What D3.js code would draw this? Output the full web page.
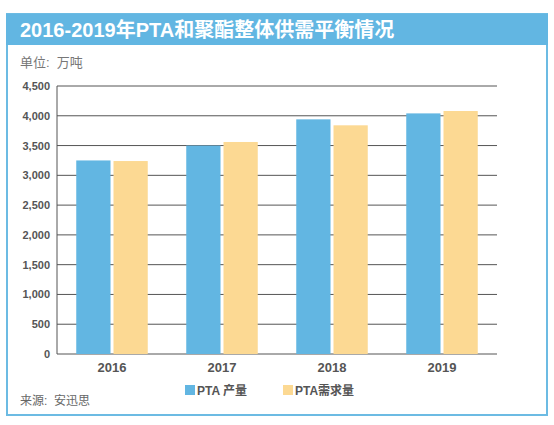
<!DOCTYPE html><html><head><meta charset="utf-8"><script src="https://cdn.jsdelivr.net/npm/d3@7"></script>
<style>body{margin:0;background:#fff}text{font-family:"Liberation Sans","Noto Sans CJK SC",sans-serif}</style></head><body><svg width="554" height="425"></svg><script>
const years=["2016","2017","2018","2019"];
const production=[3250,3500,3940,4040];
const demand=[3240,3560,3840,4080];
const ticks=[0,500,1000,1500,2000,2500,3000,3500,4000,4500];
const svg=d3.select("svg");
svg.append("rect").attr("x",7).attr("y",14).attr("width",540).attr("height",401).attr("fill","#fff").attr("stroke","#6cbbe3").attr("stroke-width",2);
svg.append("rect").attr("x",6).attr("y",14).attr("width",542).attr("height",31).attr("fill","#62b6e2");
svg.append("text").attr("x",20).attr("y",37).attr("fill","#fff").attr("font-size",20).attr("font-weight","bold").text("2016-2019年PTA和聚酯整体供需平衡情况");
svg.append("text").attr("x",20).attr("y",67).attr("fill","#777").attr("font-size",13).text("单位:\u00a0\u00a0万吨");
const x=d3.scaleBand().domain(years).range([57,497]).paddingInner(0.35).paddingOuter(0.175);
const y=d3.scaleLinear().domain([0,4500]).range([354,86]);
svg.append("g").selectAll("line").data(ticks).join("line").attr("x1",57).attr("x2",497).attr("y1",d=>y(d)).attr("y2",d=>y(d)).attr("stroke","#555").attr("stroke-width",1);
svg.append("line").attr("x1",57).attr("x2",57).attr("y1",86).attr("y2",354).attr("stroke","#555");
svg.append("g").selectAll("text").data(ticks).join("text").attr("x",50).attr("y",d=>y(d)+4).attr("text-anchor","end").attr("font-size",11).attr("font-weight","bold").attr("fill","#555").text(d3.format(","));
const bw=x.bandwidth()/2-1.5;
const g=svg.append("g");
g.selectAll(".p").data(production).join("rect").attr("x",(d,i)=>x(years[i])).attr("width",bw).attr("y",d=>y(d)).attr("height",d=>y(0)-y(d)).attr("fill","#62b6e2");
g.selectAll(".d").data(demand).join("rect").attr("x",(d,i)=>x(years[i])+bw+3).attr("width",bw).attr("y",d=>y(d)).attr("height",d=>y(0)-y(d)).attr("fill","#fcd993");
svg.append("g").selectAll("text").data(years).join("text").attr("x",d=>x(d)+x.bandwidth()/2).attr("y",372).attr("text-anchor","middle").attr("font-size",13).attr("font-weight","bold").attr("fill","#555").text(d=>d);
svg.append("rect").attr("x",185).attr("y",385).attr("width",10).attr("height",10).attr("fill","#62b6e2");
svg.append("text").attr("x",197).attr("y",395).attr("font-size",12).attr("font-weight","bold").attr("fill","#555").text("PTA 产量");
svg.append("rect").attr("x",283).attr("y",385).attr("width",10).attr("height",10).attr("fill","#fcd993");
svg.append("text").attr("x",295).attr("y",395).attr("font-size",12).attr("font-weight","bold").attr("fill","#555").text("PTA需求量");
svg.append("text").attr("x",20).attr("y",405).attr("font-size",12).attr("fill","#666").text("来源:\u00a0\u00a0安迅思");
</script></body></html>
